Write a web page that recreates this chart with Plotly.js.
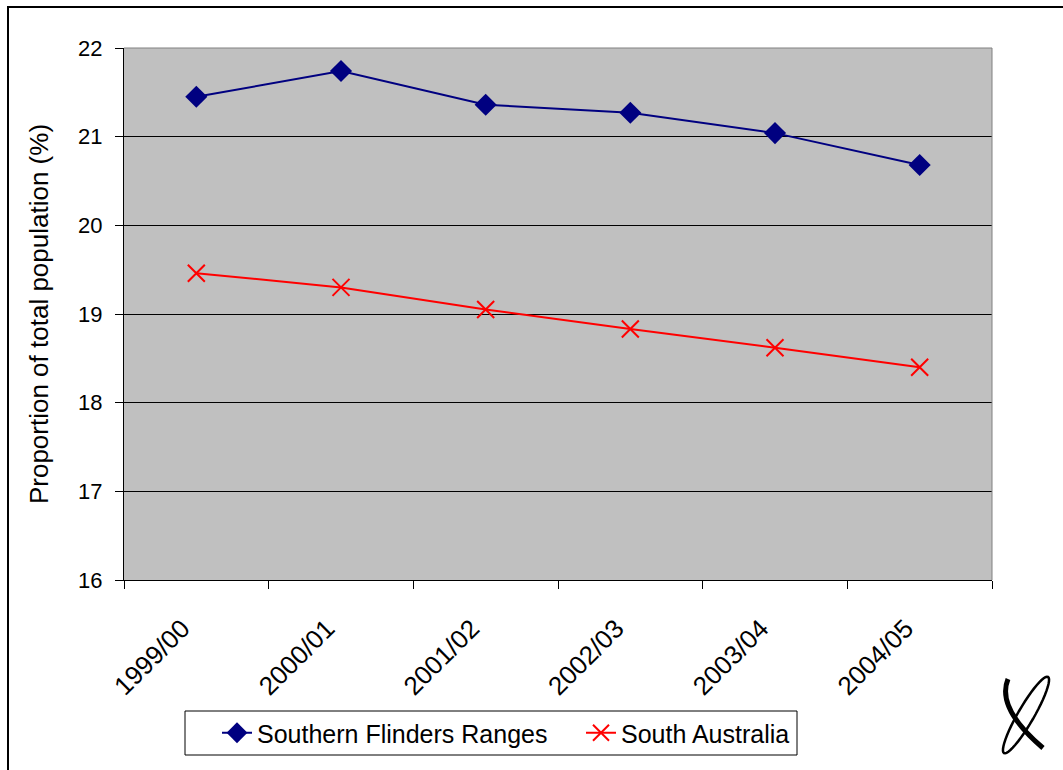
<!DOCTYPE html>
<html>
<head>
<meta charset="utf-8">
<script src="https://cdn.plot.ly/plotly-3.0.1.min.js"></script>
<style>html,body{margin:0;padding:0;background:#fff;}#chart{width:1063px;height:770px;}</style>
</head>
<body>
<div id="chart"></div>
<script>
var categories = ["1999/00", "2000/01", "2001/02", "2002/03", "2003/04", "2004/05"];
var sfrValues = [21.45, 21.74, 21.36, 21.27, 21.04, 20.68];
var saValues = [19.46, 19.30, 19.05, 18.83, 18.62, 18.40];
var yTicks = [16, 17, 18, 19, 20, 21, 22];

var W = 1063, H = 770, L = 124, R = 71, T = 48, B = 190;
var pw = W - L - R, ph = H - T - B;
function px(x) { return (x - L) / pw; }
function py(y) { return (H - B - y) / ph; }

var font = "Liberation Sans, Arial, sans-serif";

// decorative logo outline (bottom-right), in pixel space converted to paper
function ellipsePath(cx, cy, a, b, angDeg) {
  var t = angDeg * Math.PI / 180, s = "";
  for (var i = 0; i <= 48; i++) {
    var u = i / 48 * 2 * Math.PI;
    var ex = a * Math.cos(u), ey = b * Math.sin(u);
    var X = cx + ex * Math.cos(t) - ey * Math.sin(t);
    var Y = cy + ex * Math.sin(t) + ey * Math.cos(t);
    s += (i === 0 ? "M" : "L") + px(X).toFixed(5) + "," + py(Y).toFixed(5);
  }
  return s + "Z";
}
function curvePath(pts) {
  var s = "M" + px(pts[0][0]) + "," + py(pts[0][1]);
  s += " Q" + px(pts[1][0]) + "," + py(pts[1][1]) + " " + px(pts[2][0]) + "," + py(pts[2][1]);
  return s;
}

var traces = [
  {
    x: categories, y: sfrValues, name: "Southern Flinders Ranges",
    type: "scatter", mode: "lines+markers",
    line: {color: "#000080", width: 2},
    marker: {symbol: "diamond", size: 17, color: "#000080"},
    legend: "legend"
  },
  {
    x: categories, y: saValues, name: "South Australia",
    type: "scatter", mode: "lines+markers",
    line: {color: "#FF0000", width: 2},
    marker: {symbol: "x-thin-open", size: 17, color: "#FF0000", line: {color: "#FF0000", width: 2}},
    legend: "legend2"
  }
];

var legendFont = {family: font, size: 25, color: "#000"};

var layout = {
  width: W, height: H,
  margin: {l: L, r: R, t: T, b: B, pad: 0},
  paper_bgcolor: "#FFFFFF",
  plot_bgcolor: "#C0C0C0",
  font: {family: font, size: 23, color: "#000"},
  showlegend: true,
  legend: {
    orientation: "h",
    x: px(217), y: py(733), xanchor: "left", yanchor: "middle",
    bgcolor: "rgba(0,0,0,0)", borderwidth: 0,
    font: legendFont
  },
  legend2: {
    orientation: "h",
    x: px(581), y: py(733), xanchor: "left", yanchor: "middle",
    bgcolor: "rgba(0,0,0,0)", borderwidth: 0,
    font: legendFont
  },
  xaxis: {
    type: "category",
    tickson: "boundaries",
    ticks: "outside", ticklen: 8, tickcolor: "#000", tickwidth: 1,
    showgrid: false,
    showline: true, linecolor: "#000", linewidth: 1,
    tickangle: -45,
    ticklabelstandoff: 22,
    ticklabelshift: -14,
    tickfont: {family: font, size: 26, color: "#000"},
    range: [-0.5, 5.5],
    fixedrange: true
  },
  yaxis: {
    range: [16, 22],
    tickvals: yTicks,
    ticktext: yTicks.map(String),
    ticks: "outside", ticklen: 8, tickcolor: "#000", tickwidth: 1,
    ticklabelstandoff: 8,
    showgrid: true, gridcolor: "#000", gridwidth: 1,
    showline: true, linecolor: "#000", linewidth: 1,
    zeroline: false,
    tickfont: {family: font, size: 22, color: "#000"},
    title: {text: "Proportion of total population (%)", font: {family: font, size: 26, color: "#000"}, standoff: 22},
    fixedrange: true
  },
  shapes: [
    {type: "line", xref: "paper", yref: "paper", x0: px(L), x1: px(W - R), y0: 1, y1: 1, line: {color: "#808080", width: 1}},
    {type: "line", xref: "paper", yref: "paper", x0: 1, x1: 1, y0: 0, y1: 1, line: {color: "#808080", width: 1}},
    {type: "line", xref: "paper", yref: "paper", x0: px(8), x1: px(8), y0: py(6), y1: py(775), line: {color: "#000", width: 2}},
    {type: "line", xref: "paper", yref: "paper", x0: px(7), x1: px(1070), y0: py(7), y1: py(7), line: {color: "#000", width: 2}},
    {type: "rect", xref: "paper", yref: "paper", x0: px(185), x1: px(797), y0: py(711), y1: py(755), line: {color: "#000", width: 1}, fillcolor: "rgba(0,0,0,0)"},
    {type: "path", xref: "paper", yref: "paper", path: ellipsePath(1026, 715, 44, 8, -60), line: {color: "#000", width: 2.5}},
    {type: "path", xref: "paper", yref: "paper", path: curvePath([[1008, 679], [996, 708], [1043, 748]]), line: {color: "#000", width: 5}}
  ]
};

Plotly.newPlot("chart", traces, layout, {displayModeBar: false, staticPlot: true});
</script>
</body>
</html>
